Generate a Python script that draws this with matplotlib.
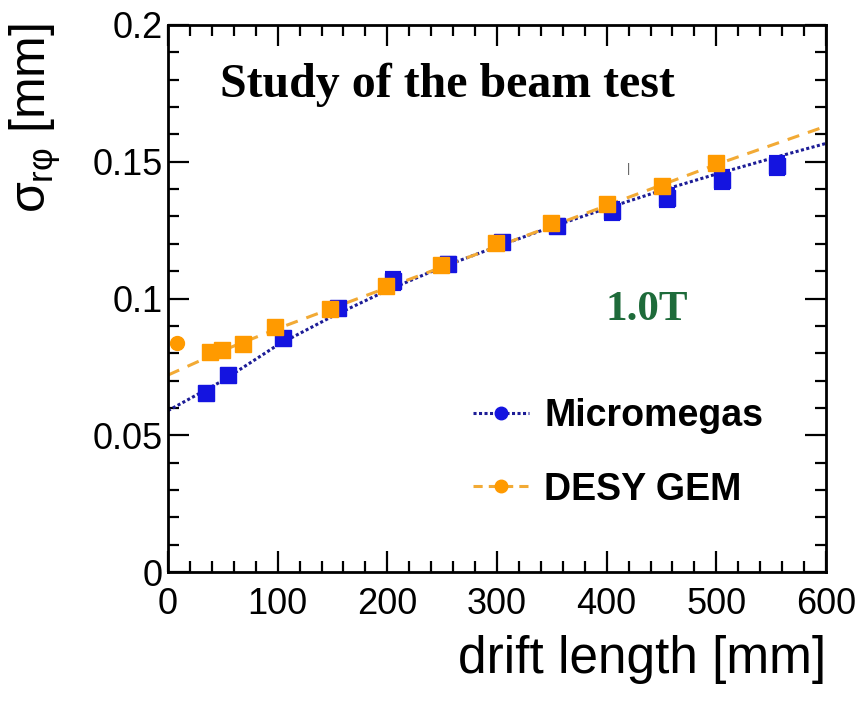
import matplotlib
matplotlib.use("Agg")
import matplotlib.pyplot as plt
from matplotlib.lines import Line2D
from matplotlib.ticker import MultipleLocator

plt.rcParams['font.family'] = ['Liberation Sans', 'DejaVu Sans']
plt.rcParams['mathtext.fontset'] = 'custom'
plt.rcParams['mathtext.rm'] = 'Liberation Sans'
plt.rcParams['mathtext.it'] = 'Liberation Sans'

# Micromegas measurements
mm_x = [35, 55, 105, 155, 205, 255, 305, 355, 405, 455, 505, 555]
mm_sigma = [0.0655, 0.0719, 0.0855, 0.0965, 0.1065, 0.1127, 0.1205, 0.1266,
            0.1320, 0.1369, 0.1435, 0.1486]
mm_err = [0.0010, 0.0010, 0.0015, 0.0020, 0.0030, 0.0020, 0.0020, 0.0020,
          0.0030, 0.0030, 0.0030, 0.0030]

# DESY GEM measurements
gem_x = [38, 49, 68, 98, 148, 199, 249, 299, 349, 400, 450, 500]
gem_sigma = [0.0804, 0.0811, 0.0833, 0.0895, 0.0961, 0.1046, 0.1123, 0.1204,
             0.1277, 0.1347, 0.1413, 0.1494]
gem_x0 = [8]
gem_sigma0 = [0.0837]

# fitted curves
fit_x = [0, 50, 100, 150, 200, 250, 300, 350, 400, 450, 500, 550, 600]
mm_fit = [0.0590, 0.0700, 0.0830, 0.0935, 0.1030, 0.1115, 0.1190, 0.1262,
          0.1330, 0.1395, 0.1455, 0.1512, 0.1567]
gem_fit = [0.0720, 0.0810, 0.0890, 0.0965, 0.1040, 0.1115, 0.1190, 0.1265,
           0.1340, 0.1415, 0.1490, 0.1560, 0.1630]

blue = '#1414e0'
navy = '#1c1c96'
orange = '#ff9a00'
orange_line = '#f2aa35'

fig = plt.figure(figsize=(8.67, 7.01), dpi=100)
ax = fig.add_axes([168 / 867, 1 - 572 / 701, 658 / 867, 547 / 701])

ax.plot(fit_x, mm_fit, color=navy, lw=2.2, ls=(0, (1, 0.8)))
ax.plot(fit_x, gem_fit, color=orange_line, lw=2.2, ls=(0, (4, 3)))

ax.errorbar(mm_x, mm_sigma, yerr=mm_err, fmt='s', color=blue, ms=11,
            elinewidth=3, capsize=6, capthick=3)
ax.errorbar(gem_x, gem_sigma, yerr=0.001, fmt='s', color=orange, ms=12,
            elinewidth=2, capsize=5, capthick=2)
ax.plot(gem_x0, gem_sigma0, 'o', color=orange, ms=10)

ax.set_xlim(0, 600)
ax.set_ylim(0, 0.2)
ax.xaxis.set_major_locator(MultipleLocator(100))
ax.xaxis.set_minor_locator(MultipleLocator(20))
ax.yaxis.set_major_locator(MultipleLocator(0.05))
ax.yaxis.set_minor_locator(MultipleLocator(0.01))
ax.set_yticks([0, 0.05, 0.1, 0.15, 0.2])
ax.set_yticklabels(['0', '0.05', '0.1', '0.15', '0.2'])

ax.tick_params(which='both', direction='in', top=True, right=True, width=1.6,
               labelsize=26)
ax.tick_params(which='major', length=15)
ax.tick_params(which='minor', length=8)
ax.tick_params(axis='x', pad=11)
ax.tick_params(axis='y', pad=4)
for s in ax.spines.values():
    s.set_linewidth(2)

ax.text(0.079, 0.89, 'Study of the beam test', transform=ax.transAxes,
        family='Liberation Serif', weight='bold', fontsize=34.5, va='center')
ax.text(0.728, 0.479, '1.0T', transform=ax.transAxes, color='#1e6b3a',
        family='Liberation Serif', weight='bold', fontsize=31,
        ha='center', va='center')
ax.text(420, 0.1475, '|', color='#555555', fontsize=9, ha='center', va='center')

handles = [
    Line2D([], [], color=navy, lw=2.2, ls=(0, (1, 0.8)), marker='o',
           mfc=blue, mec=blue, ms=9),
    Line2D([], [], color=orange_line, lw=2.2, ls=(0, (3, 2)), marker='o',
           mfc=orange, mec=orange, ms=9),
]
ax.legend(handles, ['Micromegas', 'DESY GEM'], loc='upper left',
          bbox_to_anchor=(0.4635, 0.318), frameon=False, borderpad=0,
          borderaxespad=0, handlelength=1.5, handletextpad=0.4,
          labelspacing=1.0, prop={'weight': 'bold', 'size': 27})

fig.text(35 / 867, 1 - 118 / 701, r'$\sigma_{r\varphi}$ [mm]', rotation=90,
         fontsize=36, ha='center', va='center')
fig.text(826 / 867, 1 - 660 / 701, 'drift length [mm]', fontsize=37,
         ha='right', va='center')

fig.savefig('out.png', dpi=100)
